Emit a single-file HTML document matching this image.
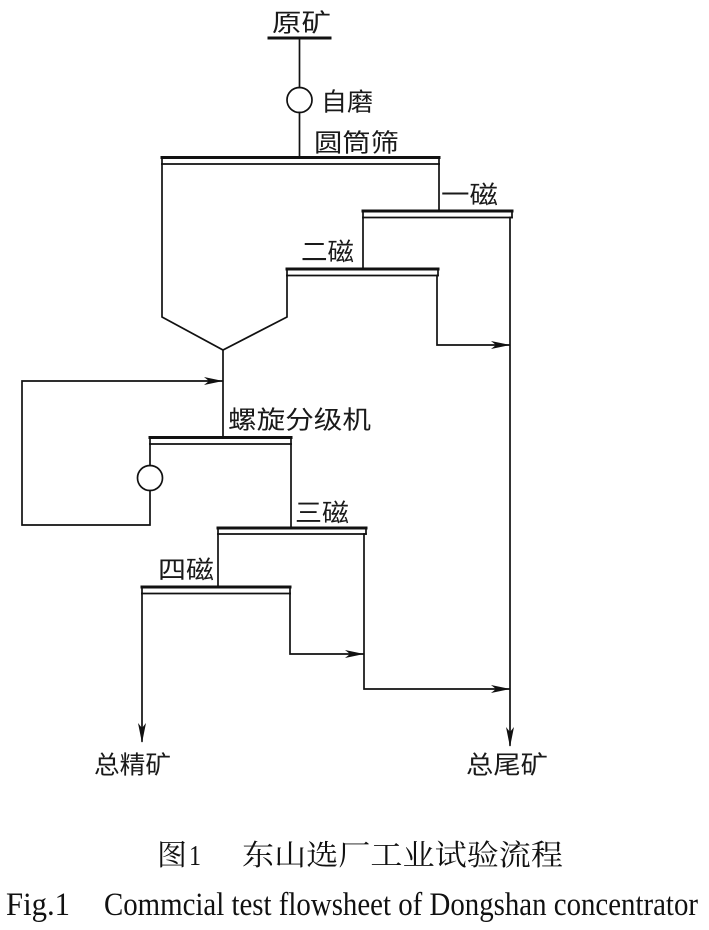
<!DOCTYPE html>
<html>
<head>
<meta charset="utf-8">
<style>
html,body{margin:0;padding:0;background:#fff;}
svg{display:block;}
.l{font-family:"Liberation Sans","Noto Sans CJK SC",sans-serif;font-size:25px;fill:#1a1a1a;}
.cz{font-family:"Liberation Serif","Noto Serif CJK SC",serif;font-size:29px;fill:#111;}
.en{font-family:"Liberation Serif",serif;font-size:33px;fill:#111;}
</style>
</head>
<body>
<svg width="709" height="930" viewBox="0 0 709 930" xmlns="http://www.w3.org/2000/svg">
<rect width="709" height="930" fill="#fff"/>
<g stroke="#111" stroke-width="1.7" fill="none" stroke-linecap="square">
  <line x1="269" y1="38" x2="330" y2="38" stroke-width="3"/>
  <line x1="299.5" y1="38" x2="299.5" y2="87.5"/>
  <circle cx="299.5" cy="100" r="12.5"/>
  <line x1="299.5" y1="112.5" x2="299.5" y2="157"/>

  <line x1="162" y1="157.5" x2="439" y2="157.5" stroke-width="3"/>
  <line x1="162" y1="164" x2="439" y2="164"/>
  <line x1="162" y1="157.5" x2="162" y2="164"/>
  <line x1="439" y1="157.5" x2="439" y2="164"/>

  <line x1="363" y1="211" x2="512" y2="211" stroke-width="3"/>
  <line x1="363" y1="217.5" x2="512" y2="217.5"/>
  <line x1="363" y1="211" x2="363" y2="217.5"/>
  <line x1="512" y1="211" x2="512" y2="217.5"/>

  <line x1="287" y1="269" x2="438" y2="269" stroke-width="3"/>
  <line x1="287" y1="275.5" x2="438" y2="275.5"/>
  <line x1="287" y1="269" x2="287" y2="275.5"/>
  <line x1="438" y1="269" x2="438" y2="275.5"/>

  <line x1="150" y1="437.5" x2="291" y2="437.5" stroke-width="3"/>
  <line x1="150" y1="444" x2="291" y2="444"/>
  <line x1="150" y1="437.5" x2="150" y2="444"/>
  <line x1="291" y1="437.5" x2="291" y2="444"/>

  <line x1="218" y1="528" x2="366" y2="528" stroke-width="3"/>
  <line x1="218" y1="534" x2="366" y2="534"/>
  <line x1="218" y1="528" x2="218" y2="534"/>
  <line x1="366" y1="528" x2="366" y2="534"/>

  <line x1="142" y1="587" x2="290" y2="587" stroke-width="3"/>
  <line x1="142" y1="593.5" x2="290" y2="593.5"/>
  <line x1="142" y1="587" x2="142" y2="593.5"/>
  <line x1="290" y1="587" x2="290" y2="593.5"/>

  <polyline points="162,164 162,317 223,350 287,317 287,275.5"/>
  <line x1="223" y1="350" x2="223" y2="437.5"/>

  <polyline points="150,491 150,525 22,525 22,381 222,381"/>
  <line x1="150" y1="444" x2="150" y2="465.5"/>
  <circle cx="150" cy="478" r="12.5"/>

  <line x1="439" y1="164" x2="439" y2="211"/>
  <line x1="363" y1="217.5" x2="363" y2="269"/>
  <line x1="510" y1="217.5" x2="510" y2="745"/>
  <polyline points="437,275.5 437,345 509,345"/>
  <line x1="291" y1="444" x2="291" y2="528"/>
  <line x1="218" y1="534" x2="218" y2="587"/>
  <polyline points="364,534 364,689 509,689"/>
  <line x1="142" y1="593.5" x2="142" y2="741"/>
  <polyline points="290,593.5 290,654 363,654"/>
</g>

<g fill="#111" stroke="none">
  <path d="M223,381 L204,377 L209,381 L204,385 Z"/>
  <path d="M510,345 L491,341 L496,345 L491,349 Z"/>
  <path d="M364,654 L345,650 L350,654 L345,658 Z"/>
  <path d="M510,689 L491,685 L496,689 L491,693 Z"/>
  <path d="M142,743 L138,723 L142,728 L146,723 Z"/>
  <path d="M510,747 L506,727 L510,732 L514,727 Z"/>
</g>

<g class="l">
  <text x="272" y="31.5" textLength="59" lengthAdjust="spacingAndGlyphs">原矿</text>
  <text x="321" y="110.5" textLength="52" lengthAdjust="spacingAndGlyphs">自磨</text>
  <text x="314" y="151.5" textLength="85" lengthAdjust="spacingAndGlyphs">圆筒筛</text>
  <text x="441" y="203.5" textLength="57" lengthAdjust="spacingAndGlyphs">一磁</text>
  <text x="301" y="260.5" textLength="53" lengthAdjust="spacingAndGlyphs">二磁</text>
  <text x="228" y="428.5" textLength="143" lengthAdjust="spacingAndGlyphs">螺旋分级机</text>
  <text x="295" y="521.5" textLength="54" lengthAdjust="spacingAndGlyphs">三磁</text>
  <text x="158" y="578.5" textLength="56" lengthAdjust="spacingAndGlyphs">四磁</text>
  <text x="94" y="773.5" textLength="77" lengthAdjust="spacingAndGlyphs">总精矿</text>
  <text x="466" y="773.5" textLength="82" lengthAdjust="spacingAndGlyphs">总尾矿</text>
</g>

<text class="cz" x="157" y="865" textLength="30" lengthAdjust="spacingAndGlyphs">图</text>
<text class="cz" x="189" y="865" textLength="12" lengthAdjust="spacingAndGlyphs">1</text>
<text class="cz" x="242" y="865" textLength="321" lengthAdjust="spacingAndGlyphs">东山选厂工业试验流程</text>
<text class="en" x="6" y="915" textLength="64" lengthAdjust="spacingAndGlyphs">Fig.1</text>
<text class="en" x="104" y="915" textLength="594" lengthAdjust="spacingAndGlyphs">Commcial test flowsheet of Dongshan concentrator</text>
</svg>
</body>
</html>
